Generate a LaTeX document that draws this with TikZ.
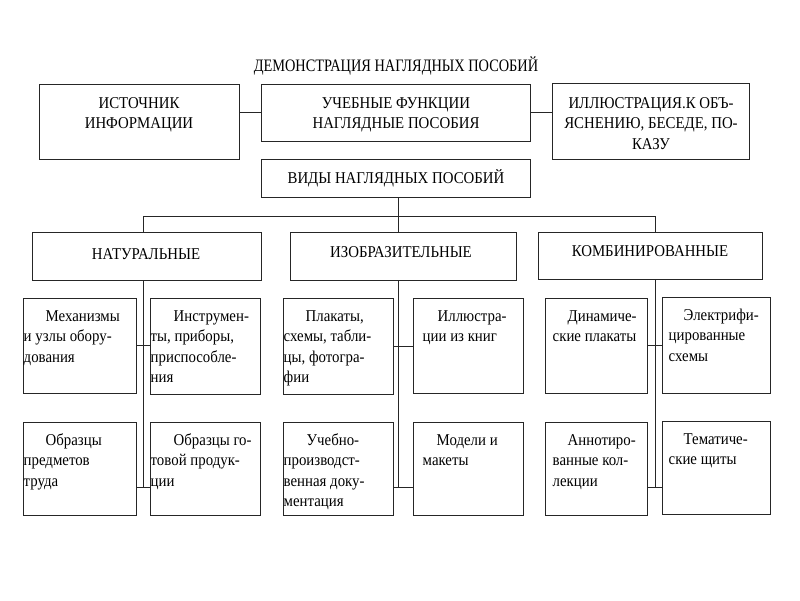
\documentclass[tikz,border=0pt]{standalone}
\usepackage{fontspec}
\setmainfont{Liberation Serif}[FakeStretch=0.9]
\newfontfamily\titlefont{Liberation Serif}[FakeStretch=0.82]
\usetikzlibrary{fit}
\newcommand{\mkbox}[5]{\node[bx, fit={(#2,#3) (#4,#5)}] (#1) {};}
\begin{document}
\begin{tikzpicture}[x=1pt,y=-1pt,
  bx/.style={draw=black!85, line width=1pt, inner sep=0pt, rectangle},
  ln/.style={draw=black!85, line width=1pt},
  txt/.style={inner sep=0pt, text=black, font={\fontsize{16.5}{20.5}\selectfont}},
  ctxt/.style={txt, align=left, anchor=north west},
  mtxt/.style={txt, align=center, anchor=north}]
\fill[white] (0,0) rectangle (800,600);
\useasboundingbox (0,0) rectangle (800,600);

% boxes
\mkbox{src}{39}{84}{239}{159}
\mkbox{fun}{261}{84}{530}{141}
\mkbox{ill}{552}{83}{749}{159}
\mkbox{vid}{261}{159}{530}{197}
\mkbox{nat}{32}{232}{261}{280}
\mkbox{izo}{290}{232}{516}{280}
\mkbox{kom}{538}{232}{762}{279}
\mkbox{mech}{23}{298}{136}{393}
\mkbox{inst}{150}{298}{260}{394}
\mkbox{obra}{23}{422}{136}{515}
\mkbox{obrb}{150}{422}{260}{515}
\mkbox{plak}{283}{298}{393}{394}
\mkbox{uche}{283}{422}{393}{515}
\mkbox{illk}{413}{298}{523}{393}
\mkbox{mode}{413}{422}{523}{515}
\mkbox{dina}{545}{298}{647}{393}
\mkbox{elek}{662}{297}{770}{393}
\mkbox{anno}{545}{422}{647}{515}
\mkbox{tema}{662}{421}{770}{514}

% title and heading texts
\node[txt, anchor=base, font={\titlefont\fontsize{17.5}{20.5}\selectfont}] (title) at (396,71) {ДЕМОНСТРАЦИЯ НАГЛЯДНЫХ ПОСОБИЙ};
\node[mtxt] (tsrc) at (139,93.6) {\strut ИСТОЧНИК\\ИНФОРМАЦИИ};
\node[mtxt] (tfun) at (396,93.6) {\strut УЧЕБНЫЕ ФУНКЦИИ\\НАГЛЯДНЫЕ ПОСОБИЯ};
\node[mtxt] (till) at (651,93.6) {\strut ИЛЛЮСТРАЦИЯ.К ОБЪ-\\ЯСНЕНИЮ, БЕСЕДЕ, ПО-\\КАЗУ};
\node[txt, anchor=base] (tvid) at (396,183) {ВИДЫ НАГЛЯДНЫХ ПОСОБИЙ};
\node[txt, anchor=base] (tnat) at (146,259) {НАТУРАЛЬНЫЕ};
\node[txt, anchor=base] (tizo) at (401,257) {ИЗОБРАЗИТЕЛЬНЫЕ};
\node[txt, anchor=base] (tkom) at (650,256) {КОМБИНИРОВАННЫЕ};

% child texts
\node[ctxt] (tmech) at ([xshift=1pt,yshift=-9pt]mech.north west) {\strut\hspace*{22pt}Механизмы\\и узлы обору-\\дования};
\node[ctxt] (tinst) at ([xshift=1pt,yshift=-9pt]inst.north west) {\strut\hspace*{23pt}Инструмен-\\ты, приборы,\\приспособле-\\ния};
\node[ctxt] (tobra) at ([xshift=1pt,yshift=-9pt]obra.north west) {\strut\hspace*{22pt}Образцы\\предметов\\труда};
\node[ctxt] (tobrb) at ([xshift=1pt,yshift=-9pt]obrb.north west) {\strut\hspace*{23pt}Образцы го-\\товой продук-\\ции};
\node[ctxt] (tplak) at ([xshift=1pt,yshift=-9pt]plak.north west) {\strut\hspace*{22pt}Плакаты,\\схемы, табли-\\цы, фотогра-\\фии};
\node[ctxt] (tuche) at ([xshift=1pt,yshift=-9pt]uche.north west) {\strut\hspace*{23pt}Учебно-\\производст-\\венная доку-\\ментация};
\node[ctxt] (tillk) at ([xshift=10pt,yshift=-9pt]illk.north west) {\strut\hspace*{15pt}Иллюстра-\\ции из книг};
\node[ctxt] (tmode) at ([xshift=10pt,yshift=-9pt]mode.north west) {\strut\hspace*{14pt}Модели и\\макеты};
\node[ctxt] (tdina) at ([xshift=8pt,yshift=-9pt]dina.north west) {\strut\hspace*{15pt}Динамиче-\\ские плакаты};
\node[ctxt] (telek) at ([xshift=7pt,yshift=-9pt]elek.north west) {\strut\hspace*{15pt}Электрифи-\\цированные\\схемы};
\node[ctxt] (tanno) at ([xshift=8pt,yshift=-9pt]anno.north west) {\strut\hspace*{15pt}Аннотиро-\\ванные кол-\\лекции};
\node[ctxt] (ttema) at ([xshift=7pt,yshift=-9pt]tema.north west) {\strut\hspace*{15pt}Тематиче-\\ские щиты};

% spine coordinates
\coordinate (spa) at (143,216);
\coordinate (spb) at (398,216);
\coordinate (spc) at (655,216);
\coordinate (ena) at (143,487);
\coordinate (enb) at (398,487);
\coordinate (enc) at (655,487);

% connectors
\draw[ln] (fun.west -| src.east) -- (fun.west);
\draw[ln] (fun.east) -- (fun.east -| ill.west);
\draw[ln] (vid.south -| spb) -- (spb |- izo.north);
\draw[ln] (spa) -- (spc);
\draw[ln] (spa) -- (spa |- nat.north);
\draw[ln] (spc) -- (spc |- kom.north);
\draw[ln] (spa |- nat.south) -- (ena);
\draw[ln] (spb |- izo.south) -- (enb);
\draw[ln] (spc |- kom.south) -- (enc);
\draw[ln] (mech.east) -- (mech.east -| inst.west);
\draw[ln] (plak.east) -- (plak.east -| illk.west);
\draw[ln] (dina.east) -- (dina.east -| elek.west);
\draw[ln] (ena -| obra.east) -- (ena -| obrb.west);
\draw[ln] (enb -| uche.east) -- (enb -| mode.west);
\draw[ln] (enc -| anno.east) -- (enc -| tema.west);
\end{tikzpicture}
\end{document}
